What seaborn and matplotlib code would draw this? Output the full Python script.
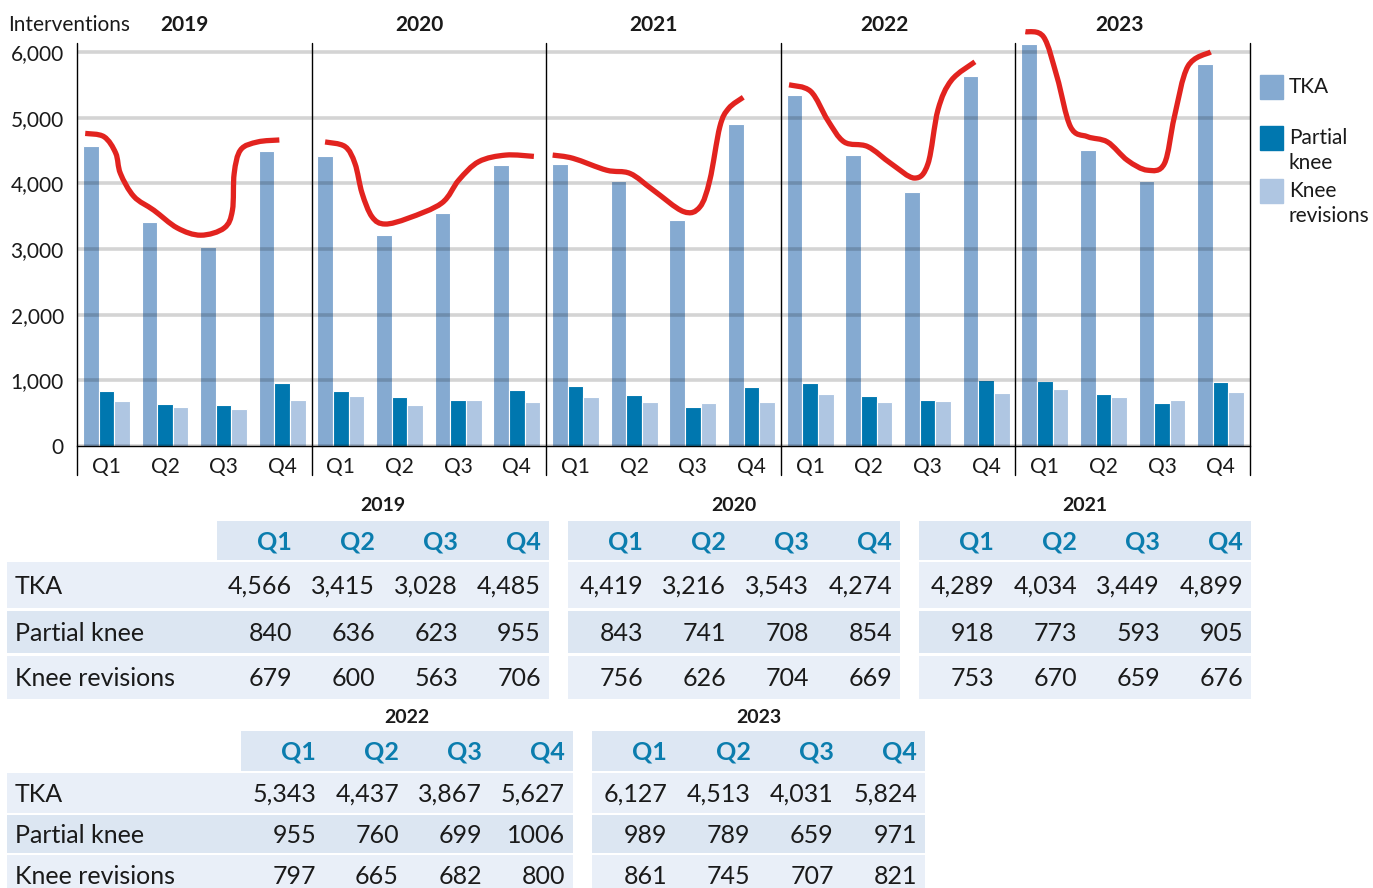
import numpy as np
import pandas as pd
import matplotlib.pyplot as plt
import seaborn as sns
from matplotlib.path import Path
from matplotlib.patches import PathPatch, Rectangle

# Data: knee interventions per quarter
years = [2019, 2020, 2021, 2022, 2023]
quarters = ["Q1", "Q2", "Q3", "Q4"]
series = ["TKA", "Partial knee", "Knee revisions"]

tka = [[4566, 3415, 3028, 4485],
       [4419, 3216, 3543, 4274],
       [4289, 4034, 3449, 4899],
       [5343, 4437, 3867, 5627],
       [6127, 4513, 4031, 5824]]
partial = [[840, 636, 623, 955],
           [843, 741, 708, 854],
           [918, 773, 593, 905],
           [955, 760, 699, 1006],
           [989, 789, 659, 971]]
revisions = [[679, 600, 563, 706],
             [756, 626, 704, 669],
             [753, 670, 659, 676],
             [797, 665, 682, 800],
             [861, 745, 707, 821]]

# hand-drawn red trend curve (quarter position, value)
trend_2019 = [(-0.36, 4760), (-0.04, 4710), (0.16, 4460), (0.24, 4150), (0.47, 3800),
              (0.81, 3590), (1.21, 3320), (1.61, 3210), (2.01, 3320), (2.15, 3590),
              (2.18, 4150), (2.29, 4510), (2.58, 4630), (2.95, 4660)]
trend_2020 = [(-0.27, 4630), (0.07, 4560), (0.24, 4300), (0.36, 3850), (0.53, 3490),
              (0.75, 3380), (1.15, 3470), (1.72, 3700), (2.01, 4050), (2.35, 4330),
              (2.81, 4430), (3.29, 4410)]
trend_2021 = [(-0.39, 4430), (-0.04, 4380), (0.53, 4200), (0.93, 4150), (1.32, 3900),
              (1.84, 3570), (2.12, 3640), (2.29, 4050), (2.46, 4860), (2.61, 5140),
              (2.86, 5310)]
trend_2022 = [(-0.36, 5500), (0.01, 5400), (0.30, 4960), (0.58, 4630), (0.98, 4560),
              (1.38, 4300), (1.78, 4080), (2.01, 4300), (2.18, 5120), (2.41, 5570),
              (2.81, 5850)]
trend_2023 = [(-0.33, 6310), (-0.02, 6230), (0.21, 5620), (0.44, 4860), (0.73, 4710),
              (1.07, 4630), (1.41, 4350), (1.75, 4200), (2.04, 4300), (2.21, 5010),
              (2.44, 5780), (2.83, 6000)]
trends = [trend_2019, trend_2020, trend_2021, trend_2022, trend_2023]

colors = ["#85AAD1", "#0077AF", "#AFC6E2"]
red = "#E2231F"
dark = "#1A1A1A"
q_blue = "#0B7DAE"

sns.set_style("white")
plt.rcParams["font.family"] = ["Lato", "DejaVu Sans"]

W, H = 1373, 888
fig = plt.figure(figsize=(W / 100, H / 100), dpi=100)


def fx(px):
    return px / W


def fy(py):
    return 1 - py / H


def smooth_path(pts):
    # Catmull-Rom through the points, drawn as cubic Bezier segments
    p = np.array(pts, dtype=float)
    p = np.vstack([p[0], p, p[-1]])
    verts = [p[1]]
    codes = [Path.MOVETO]
    for i in range(1, len(p) - 2):
        c1 = p[i] + (p[i + 1] - p[i - 1]) / 6
        c2 = p[i + 1] - (p[i + 2] - p[i]) / 6
        verts += [c1, c2, p[i + 1]]
        codes += [Path.CURVE4] * 3
    return Path(verts, codes)


# overlay axes in pixel coordinates for legend and tables
ov = fig.add_axes([0, 0, 1, 1])
ov.set_xlim(0, W)
ov.set_ylim(H, 0)
ov.axis("off")

# ---- bar panels ----
px_per_unit = 0.06567
top_px, base_px, left_px = 43, 446, 77
panel_w = (1250 - left_px) / 5
ymax = (base_px - top_px) / px_per_unit

for i, yr in enumerate(years):
    ax = fig.add_axes([fx(left_px + i * panel_w), fy(base_px),
                       panel_w / W, (base_px - top_px) / H])
    df = pd.DataFrame({
        "quarter": quarters * 3,
        "series": np.repeat(series, 4),
        "value": tka[i] + partial[i] + revisions[i],
    })
    sns.barplot(data=df, x="quarter", y="value", hue="series", order=quarters,
                hue_order=series, palette=colors, saturation=1, width=0.8,
                edgecolor="white", linewidth=0.8, legend=False, ax=ax)
    ax.add_patch(PathPatch(smooth_path(trends[i]), fill=False, edgecolor=red,
                           lw=3.8, capstyle="butt", clip_on=False, zorder=6))
    ax.set_xlim(-0.5, 3.5)
    ax.set_ylim(0, ymax)
    ax.set_xlabel("")
    ax.set_ylabel("")

    ax.set_yticks(range(0, 7000, 1000))
    ax.yaxis.grid(True, color="black", alpha=0.17, lw=2.6)
    ax.xaxis.grid(False)
    ax.set_axisbelow(False)
    if i == 0:
        ax.set_yticklabels([f"{v:,}" for v in range(0, 7000, 1000)])
        ax.tick_params(axis="y", length=6.5, width=1, color="black",
                       pad=3, labelsize=15, labelcolor=dark)
    else:
        ax.tick_params(axis="y", length=0, labelleft=False)

    ax.set_xticks(range(4))
    ax.set_xticklabels(quarters)
    ax.tick_params(axis="x", which="major", length=0, pad=8, labelsize=15,
                   labelcolor=dark)
    ax.set_xticks([0.5, 1.5, 2.5], minor=True)
    ax.tick_params(axis="x", which="minor", direction="in", length=8.6,
                   width=1, color="black")

    for s in ["top", "right", "left"]:
        ax.spines[s].set_visible(False)
    ax.spines["bottom"].set_color("black")
    ax.spines["bottom"].set_linewidth(1)
    ax.plot([0, 0], [-0.072, 1], transform=ax.transAxes, color="black",
            lw=1, clip_on=False, zorder=7)
    if i == len(years) - 1:
        ax.plot([1, 1], [-0.072, 1], transform=ax.transAxes, color="black",
                lw=1, clip_on=False, zorder=7)

    ax.text(1.33 if i < 3 else 1.27, (base_px - 25) / (base_px - top_px), str(yr),
            transform=ax.get_xaxis_transform(), ha="center", va="center",
            fontsize=15, fontweight="bold", color=dark)

fig.text(fx(8), fy(25), "Interventions", ha="left", va="center",
         fontsize=15, color=dark)

# ---- legend ----
legend_rows = [(75, ["TKA"]), (126, ["Partial", "knee"]), (179, ["Knee", "revisions"])]
for (y0, lines), c in zip(legend_rows, colors):
    ov.add_patch(Rectangle((1260, y0), 23, 24, color=c))
    for k, line in enumerate(lines):
        ov.text(1289, y0 + 12 + k * 25, line, ha="left", va="center",
                fontsize=15, color=dark)

# ---- tables ----
hdr_bg = "#DDE7F3"
row_bgs = ["#E9EFF8", "#DCE6F2", "#E9EFF8"]
rows_top = [(562, 608), (611, 653), (656, 699)]
rows_bot = [(773, 813), (815, 853), (855, 896)]
tables = [
    (0, 7, 217, 549, 505, (521, 560), rows_top),
    (1, None, 568, 900, 505, (521, 560), rows_top),
    (2, None, 919, 1251, 505, (521, 560), rows_top),
    (3, 7, 241, 573, 717, (731, 771), rows_bot),
    (4, None, 592, 925, 717, (731, 771), rows_bot),
]

for k, lab_x, x0, x1, title_y, hdr, rows in tables:
    colw = (x1 - x0) / 4
    ov.text((x0 + x1) / 2, title_y, str(years[k]), ha="center", va="center",
            fontsize=14, fontweight="bold", color=dark)
    ov.add_patch(Rectangle((x0, hdr[0]), x1 - x0, hdr[1] - hdr[0], color=hdr_bg, lw=0))
    for j, q in enumerate(quarters):
        ov.text(x0 + (j + 1) * colw - 8, (hdr[0] + hdr[1]) / 2 + 1, q, ha="right",
                va="center", fontsize=18, fontweight="bold", color=q_blue)
    vals = [[f"{v:,}" for v in tka[k]],
            [str(v) for v in partial[k]],
            [str(v) for v in revisions[k]]]
    for r, (ry0, ry1) in enumerate(rows):
        bx = lab_x if lab_x is not None else x0
        ov.add_patch(Rectangle((bx, ry0), x1 - bx, ry1 - ry0, color=row_bgs[r], lw=0))
        yc = (ry0 + ry1) / 2 + 1
        if lab_x is not None:
            ov.text(lab_x + 8, yc, series[r], ha="left", va="center",
                    fontsize=18, color=dark)
        for j in range(4):
            ov.text(x0 + (j + 1) * colw - 8, yc, vals[r][j], ha="right",
                    va="center", fontsize=18, color=dark)

fig.savefig("out.png", dpi=100)
